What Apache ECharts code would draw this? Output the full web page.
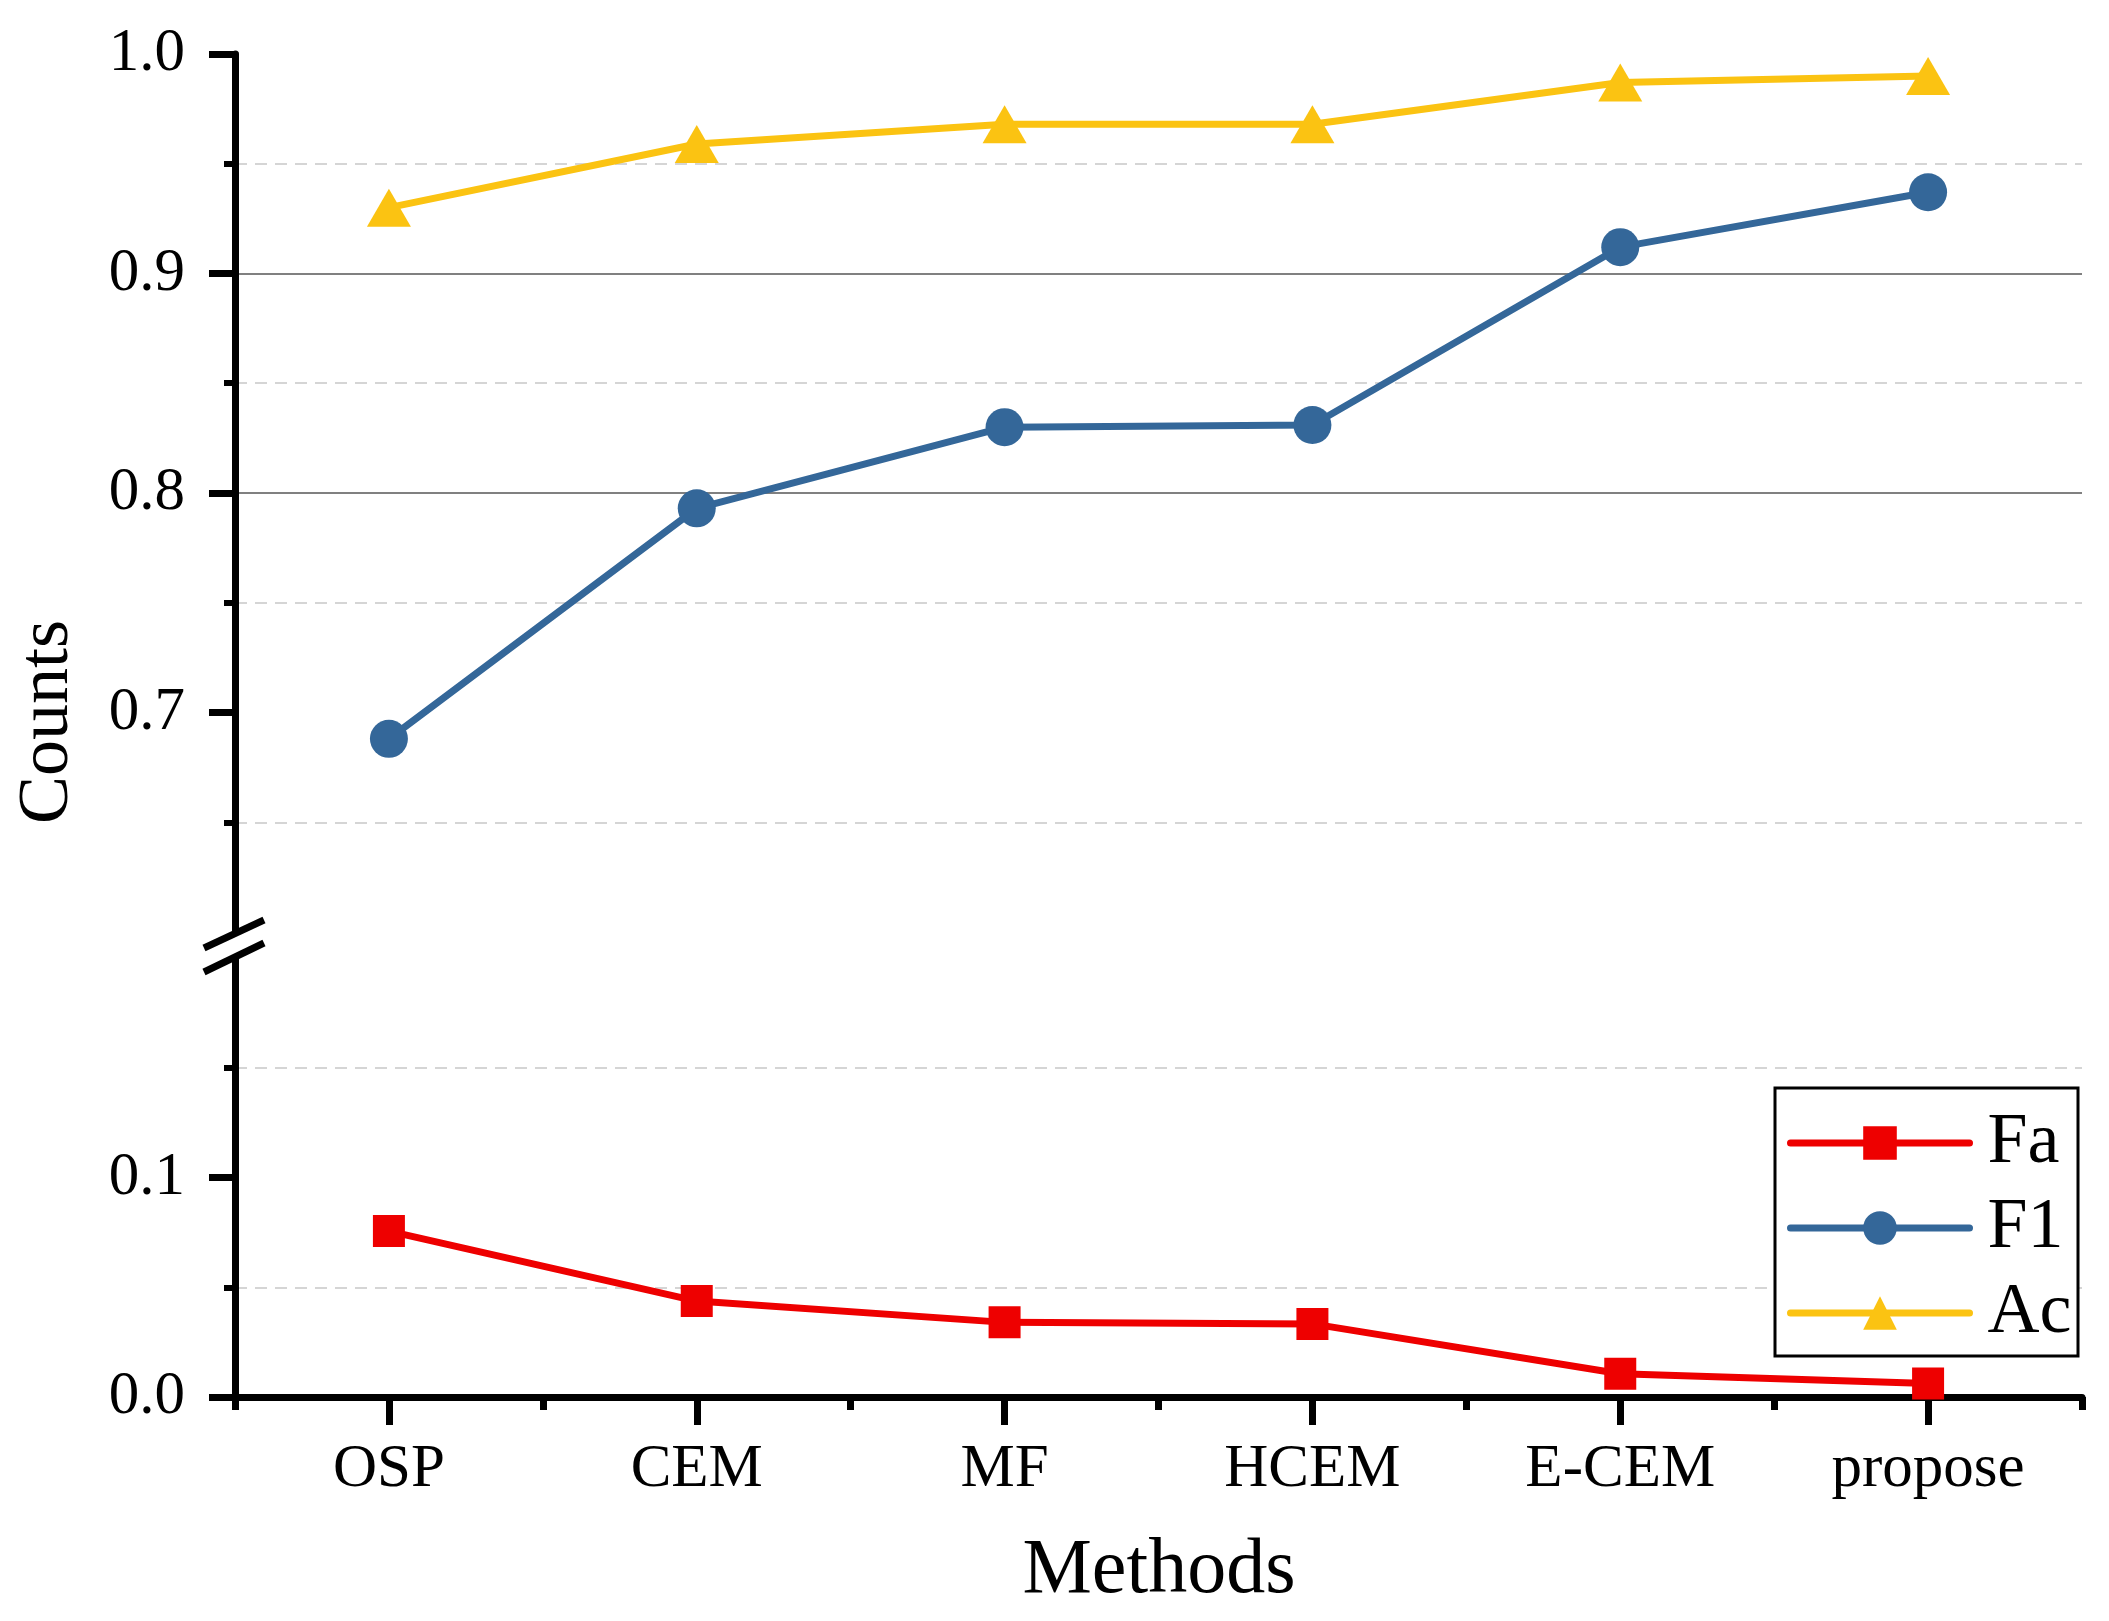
<!DOCTYPE html>
<html>
<head>
<meta charset="utf-8">
<script src="https://cdn.jsdelivr.net/npm/echarts@6/dist/echarts.min.js"></script>
<style>
  html, body { margin: 0; padding: 0; background: #fff; }
  #chart { width: 2109px; height: 1621px; }
</style>
</head>
<body>
<div id="chart"></div>
<script>
// data
const methods = ['OSP', 'CEM', 'MF', 'HCEM', 'E-CEM', 'propose'];
const faValues = [0.0756, 0.0437, 0.034, 0.0333, 0.0106, 0.0062];
const f1Values = [0.688, 0.793, 0.830, 0.831, 0.912, 0.937];
const acValues = [0.930, 0.959, 0.968, 0.968, 0.987, 0.990];
const upperTicks = [0.7, 0.8, 0.9, 1.0];
const lowerTicks = [0, 0.1];

const serif = '"Liberation Serif", "Times New Roman", serif';
const black = '#000';

// shared y axis look, the axis is broken in two pieces
function yAxisStyle(grid, min, max, ticks) {
  return {
    type: 'value',
    gridIndex: grid,
    min: min,
    max: max,
    interval: 0.1,
    axisLine: { show: true, lineStyle: { color: black, width: 7 } },
    axisTick: { show: true, customValues: ticks, length: 26, lineStyle: { color: black, width: 7 } },
    minorTick: { show: true, splitNumber: 2, length: 11, lineStyle: { color: black, width: 6 } },
    axisLabel: {
      customValues: ticks,
      margin: 50,
      color: black,
      fontFamily: serif,
      fontSize: 61,
      formatter: v => v.toFixed(1)
    },
    splitLine: {
      show: true,
      showMinLine: false,
      showMaxLine: false,
      lineStyle: { color: '#808080', width: 2 }
    },
    minorSplitLine: {
      show: true,
      lineStyle: { color: '#c8c8c8', width: 1.5, type: [12, 8] }
    }
  };
}

const chart = echarts.init(document.getElementById('chart'));

const option = {
  animation: false,
  backgroundColor: '#fff',
  grid: [
    { left: 235, right: 27, top: 54, height: 878 },
    { left: 235, right: 27, top: 958, height: 439 }
  ],
  xAxis: [
    { type: 'category', gridIndex: 0, data: methods, show: false, boundaryGap: true },
    {
      // boundary ticks + axis line
      type: 'category', gridIndex: 1, data: methods, position: 'bottom',
      axisLine: { show: true, lineStyle: { color: black, width: 7 } },
      axisTick: { show: true, interval: 0, length: 13, lineStyle: { color: black, width: 7 } },
      axisLabel: { show: false },
      splitLine: { show: false }
    },
    {
      // centre ticks + labels
      type: 'category', gridIndex: 1, data: methods, position: 'bottom',
      axisLine: { show: false },
      axisTick: { show: true, alignWithLabel: true, interval: 0, length: 28, lineStyle: { color: black, width: 7 } },
      axisLabel: { interval: 0, margin: 42, color: black, fontFamily: serif, fontSize: 61 },
      splitLine: { show: false }
    }
  ],
  yAxis: [
    yAxisStyle(0, 0.6, 1.0, upperTicks),
    yAxisStyle(1, 0, 0.2, lowerTicks)
  ],
  legend: {
    orient: 'vertical',
    left: 1782,
    top: 1102,
    itemWidth: 179,
    itemHeight: 42,
    itemGap: 13,
    data: ['Fa', 'F1', 'Ac'],
    lineStyle: { width: 7, cap: 'round' },
    textStyle: { color: black, fontFamily: serif, fontSize: 72, padding: [0, 0, 0, 13] },
    z: 6
  },
  series: [
    {
      name: 'Fa', type: 'line', xAxisIndex: 2, yAxisIndex: 1,
      data: faValues,
      symbol: 'rect', symbolSize: 32,
      lineStyle: { color: '#ee0000', width: 7, cap: 'round' },
      itemStyle: { color: '#ee0000', borderWidth: 0 }
    },
    {
      name: 'F1', type: 'line', xAxisIndex: 0, yAxisIndex: 0,
      data: f1Values,
      symbol: 'circle', symbolSize: 38,
      lineStyle: { color: '#346799', width: 7, cap: 'round' },
      itemStyle: { color: '#346799', borderWidth: 0 }
    },
    {
      name: 'Ac', type: 'line', xAxisIndex: 0, yAxisIndex: 0,
      data: acValues,
      symbol: 'triangle', symbolSize: [44, 38],
      lineStyle: { color: '#fbc312', width: 7, cap: 'round' },
      itemStyle: { color: '#fbc312', borderWidth: 0 }
    }
  ],
  graphic: [
    {
      type: 'text', x: 48, y: 722, rotation: Math.PI / 2,
      style: { text: 'Counts', fill: black, font: '72px ' + serif, align: 'center', verticalAlign: 'middle' }
    },
    {
      type: 'text', x: 1159, y: 1572,
      style: { text: 'Methods', fill: black, font: '78px ' + serif, align: 'center', verticalAlign: 'middle' }
    },
    {
      type: 'rect', z: 3,
      shape: { x: 1775, y: 1088, width: 303, height: 268 },
      style: { fill: '#fff', stroke: black, lineWidth: 3 }
    },
    // axis break marks
    {
      type: 'line', z: 10,
      shape: { x1: 204, y1: 948, x2: 264, y2: 920 },
      style: { stroke: black, lineWidth: 7 }
    },
    {
      type: 'line', z: 10,
      shape: { x1: 204, y1: 972, x2: 264, y2: 943 },
      style: { stroke: black, lineWidth: 7 }
    }
  ]
};

chart.setOption(option);
</script>
</body>
</html>
